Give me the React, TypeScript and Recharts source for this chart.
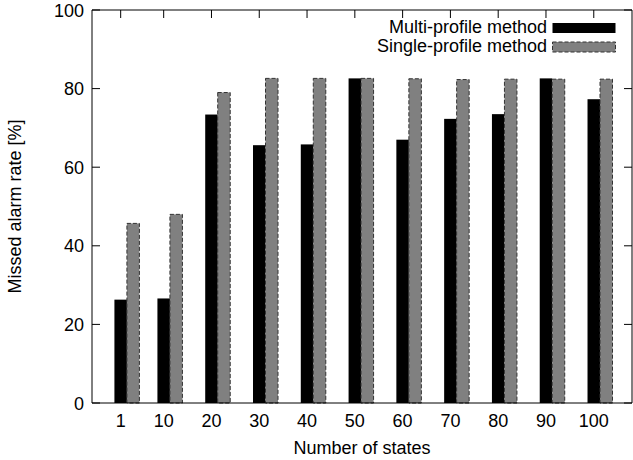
import { BarChart, Bar, XAxis, YAxis, Legend } from "recharts";

const states: number[] = [1, 10, 20, 30, 40, 50, 60, 70, 80, 90, 100];
const multiProfile: number[] = [26.3, 26.6, 73.4, 65.6, 65.8, 82.6, 67.0, 72.3, 73.5, 82.6, 77.3];
const singleProfile: number[] = [45.7, 48.0, 79.0, 82.6, 82.6, 82.6, 82.5, 82.3, 82.4, 82.4, 82.4];
const yTicks: number[] = [0, 20, 40, 60, 80, 100];

const FONT = "'Liberation Sans', Arial, Helvetica, sans-serif";
const TICK_LEN = 8;

const data = states.map((s, i) => ({ states: s, multi: multiProfile[i], single: singleProfile[i] }));

// gnuplot puts the first bar on the x value, the second one next to it
const ShiftedBar = (props: any) => {
    const { x, y, width, height, fill, stroke, strokeDasharray, strokeWidth } = props;
    if (height == null || height <= 0) return null;
    return (
        <rect
            x={x + width / 2}
            y={y}
            width={width}
            height={height}
            fill={fill}
            stroke={stroke}
            strokeWidth={strokeWidth}
            strokeDasharray={strokeDasharray}
        />
    );
};

// ticks point inwards (negative tickSize), so labels are placed from the tick end
const BottomTickLabel = (props: any) => {
    const { x, y, payload } = props;
    return (
        <text x={x} y={y + TICK_LEN + 24} textAnchor="middle" fontSize={18} fontFamily={FONT} fill="#000">
            {payload.value}
        </text>
    );
};

const LeftTickLabel = (props: any) => {
    const { x, y, payload } = props;
    return (
        <text x={x - TICK_LEN - 8} y={y + 6.5} textAnchor="end" fontSize={18} fontFamily={FONT} fill="#000">
            {payload.value}
        </text>
    );
};

const NoLabel = () => <g />;

const XTitle = (props: any) => {
    const vb = props.viewBox;
    return (
        <text x={vb.x + vb.width / 2} y={vb.y + 51} textAnchor="middle" fontSize={18} fontFamily={FONT} fill="#000">
            Number of states
        </text>
    );
};

const YTitle = (props: any) => {
    const vb = props.viewBox;
    const cx = vb.x + 21;
    const cy = vb.y + vb.height / 2;
    return (
        <text
            x={cx}
            y={cy}
            transform={`rotate(-90, ${cx}, ${cy})`}
            textAnchor="middle"
            fontSize={18}
            fontFamily={FONT}
            fill="#000"
        >
            Missed alarm rate [%]
        </text>
    );
};

const legendItems = [
    { name: "Multi-profile method", fill: "#000000", stroke: "none" },
    { name: "Single-profile method", fill: "#808080", stroke: "#333333" },
];

const LegendBox = () => (
    <div style={{ fontFamily: FONT, fontSize: 18, color: "#000" }}>
        {legendItems.map(item => (
            <div
                key={item.name}
                style={{ display: "flex", justifyContent: "flex-end", alignItems: "center", height: 19, lineHeight: "19px" }}
            >
                <span>{item.name}</span>
                <svg width={64} height={12} style={{ marginLeft: 5 }}>
                    <rect
                        x={0.5}
                        y={1}
                        width={63}
                        height={10}
                        fill={item.fill}
                        stroke={item.stroke}
                        strokeDasharray={item.stroke === "none" ? undefined : "4 2"}
                    />
                </svg>
            </div>
        ))}
    </div>
);

export default function App() {
    return (
        <div style={{ position: "absolute", left: 0, top: 0, background: "#fff" }}>
            <BarChart
                width={633}
                height={460}
                data={data}
                margin={{ top: 9, right: 0, left: 0, bottom: 0 }}
                barGap={0}
                barSize={12.5}
            >
                <XAxis
                    xAxisId="main"
                    dataKey="states"
                    type="number"
                    domain={[-5, 108]}
                    allowDataOverflow
                    ticks={states}
                    interval={0}
                    height={57}
                    tickSize={-TICK_LEN}
                    tickMargin={0}
                    tick={<BottomTickLabel />}
                    axisLine={{ stroke: "#000" }}
                    tickLine={{ stroke: "#000" }}
                    label={{ content: XTitle }}
                />
                <XAxis
                    xAxisId="top"
                    orientation="top"
                    dataKey="states"
                    type="number"
                    domain={[-5, 108]}
                    allowDataOverflow
                    ticks={states}
                    interval={0}
                    height={1}
                    tickSize={-TICK_LEN}
                    tickMargin={0}
                    tick={<NoLabel />}
                    axisLine={{ stroke: "#000" }}
                    tickLine={{ stroke: "#000" }}
                />
                <YAxis
                    yAxisId="main"
                    type="number"
                    domain={[0, 100]}
                    ticks={yTicks}
                    interval={0}
                    width={92}
                    tickSize={-TICK_LEN}
                    tickMargin={0}
                    tick={<LeftTickLabel />}
                    axisLine={{ stroke: "#000" }}
                    tickLine={{ stroke: "#000" }}
                    label={{ content: YTitle }}
                />
                <YAxis
                    yAxisId="right"
                    orientation="right"
                    type="number"
                    domain={[0, 100]}
                    allowDataOverflow
                    ticks={yTicks}
                    interval={0}
                    width={1}
                    tickSize={-TICK_LEN}
                    tickMargin={0}
                    tick={<NoLabel />}
                    axisLine={{ stroke: "#000" }}
                    tickLine={{ stroke: "#000" }}
                />
                <Legend
                    layout="horizontal"
                    verticalAlign="middle"
                    align="center"
                    wrapperStyle={{ top: 18, right: 17, left: "auto", width: "auto" }}
                    content={<LegendBox />}
                />
                <Bar
                    xAxisId="main"
                    yAxisId="main"
                    dataKey="multi"
                    name="Multi-profile method"
                    fill="#000000"
                    shape={<ShiftedBar />}
                    isAnimationActive={false}
                />
                <Bar
                    xAxisId="main"
                    yAxisId="main"
                    dataKey="single"
                    name="Single-profile method"
                    fill="#808080"
                    stroke="#333333"
                    strokeWidth={1}
                    strokeDasharray="4 2"
                    shape={<ShiftedBar />}
                    isAnimationActive={false}
                />
            </BarChart>
        </div>
    );
}
